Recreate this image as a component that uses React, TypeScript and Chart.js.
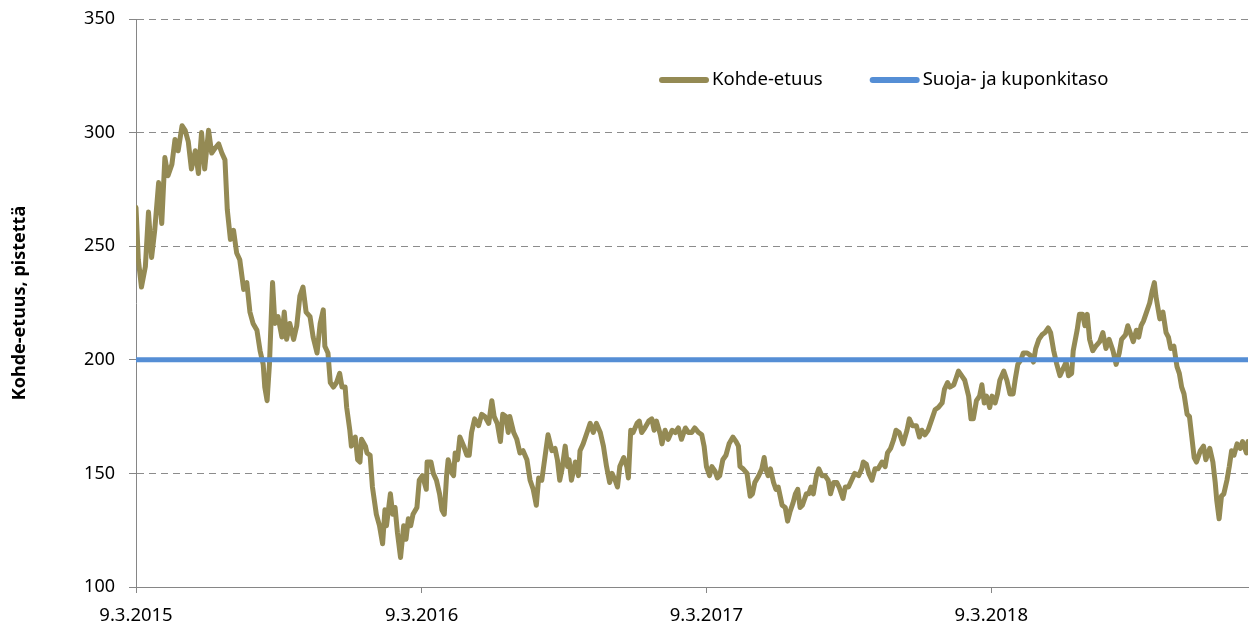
import React, { useEffect, useRef } from "react";
import { Chart, registerables } from "chart.js";

Chart.register(...registerables);

// Days since 9.3.2015
const dayOffsets = [
  0, 3, 7, 12, 16, 20, 24, 29, 33, 37, 41, 46, 50, 54, 59, 63, 67, 71, 76, 80, 84, 88, 93, 97, 101, 106, 110, 114, 117, 121,
  125, 129, 133, 138, 142, 146, 150, 155, 159, 163, 165, 168, 171, 175, 178, 182, 187, 190, 193, 197, 202, 206, 210, 214, 218,
  223, 227, 232, 236, 240, 242, 246, 249,
  253, 257, 261, 264, 268, 270, 274, 276, 281, 284, 287, 289, 294, 296, 300, 303, 308, 312, 316, 319, 321, 326, 329, 332, 335,
  339, 343, 346, 349, 352, 355, 360, 363, 367, 372, 373, 378, 381, 385, 389, 392, 395, 398, 400, 405, 407, 409, 412, 415, 420,
  424, 427, 430, 434, 439, 443, 447, 452, 456, 459, 463, 467, 470, 474, 477, 479,
  484, 488, 492, 496, 501, 505, 509, 513, 516, 520, 524, 528, 533, 537, 540, 543, 546, 550, 553, 555, 558, 563, 567, 569, 573,
  578, 582, 586, 590, 595, 599, 603, 607, 610, 614, 617, 620, 625, 629, 631, 634, 637, 642, 645, 648, 652, 657, 661, 664, 667,
  672, 674, 678, 682, 687, 691, 695, 699, 704, 708, 712, 716, 721, 725, 728, 731, 735,
  738, 742, 745, 748, 752, 756, 760, 765, 769, 772, 774, 778, 783, 787, 790, 793, 798, 802, 805, 807, 810, 813, 817, 820, 823,
  828, 832, 835, 838, 842, 845, 848, 851, 854, 859, 862, 865, 868, 872, 875, 879, 883, 887, 890, 894, 898, 901, 906, 909, 913,
  917, 921, 926, 930, 932, 936, 939, 943, 947, 951, 956, 960, 963, 967, 971, 974, 978,
  983, 988, 991, 995, 1000, 1004, 1007, 1011, 1015, 1020, 1024, 1028, 1033, 1036, 1040, 1043, 1048, 1051, 1054, 1058, 1062,
  1067, 1070, 1073, 1077, 1081, 1084, 1087, 1090, 1094, 1097, 1101, 1104, 1107, 1112, 1116, 1120, 1124, 1127, 1130, 1134, 1137,
  1142, 1146, 1150, 1153, 1157, 1161, 1165, 1169, 1172, 1176, 1180, 1184, 1188, 1192, 1195, 1199, 1201, 1206, 1209, 1213, 1216,
  1219, 1222,
  1226, 1230, 1235, 1239, 1243, 1247, 1252, 1256, 1260, 1263, 1268, 1271, 1274, 1278, 1282, 1285, 1288, 1291, 1294, 1299, 1302,
  1305, 1307, 1312, 1316, 1320, 1323, 1326, 1330, 1334, 1337, 1340, 1343, 1347, 1350, 1353, 1356, 1359, 1364, 1368, 1371, 1376,
  1380, 1383, 1385, 1388, 1391, 1394, 1398, 1401, 1404, 1407, 1411, 1415, 1418, 1423, 1425,
];

const kohdeValues = [
  267, 244, 232, 241, 265, 245, 257, 278, 260, 289, 281, 286, 297, 292, 303, 301, 296, 284, 292, 282, 300, 284, 301, 291, 293,
  295, 291, 288, 266, 253, 257, 247, 244, 231, 234, 221, 216, 213, 204, 198, 188, 182, 198, 234, 216, 219, 210, 221, 209, 216,
  209, 215, 228, 232, 221, 219, 210, 203, 216, 222, 206, 203, 190,
  188, 190, 194, 188, 188, 179, 169, 162, 166, 156, 155, 165, 162, 159, 158, 144, 132, 127, 119, 134, 127, 141, 132, 135, 124,
  113, 127, 121, 130, 127, 132, 135, 147, 149, 143, 155, 155, 150, 147, 141, 134, 132, 149, 156, 150, 149, 159, 156, 166, 162,
  158, 158, 168, 174, 171, 176, 175, 172, 182, 175, 172, 164, 176, 175, 168, 175,
  168, 165, 159, 160, 156, 147, 143, 136, 148, 147, 157, 167, 160, 161, 156, 147, 152, 162, 153, 156, 147, 155, 149, 160, 163,
  168, 172, 168, 172, 168, 162, 153, 146, 150, 147, 144, 153, 157, 153, 148, 169, 168, 172, 173, 168, 170, 173, 174, 169, 173,
  167, 163, 169, 165, 169, 168, 170, 165, 170, 168, 168, 170, 168, 167, 162, 153, 149,
  153, 151, 148, 149, 156, 158, 163, 166, 164, 162, 153, 152, 150, 140, 141, 146, 149, 152, 157, 152, 149, 152, 146, 143, 144,
  136, 135, 129, 133, 137, 141, 143, 135, 136, 141, 141, 144, 141, 149, 152, 149, 149, 147, 141, 146, 146, 144, 139, 144, 144,
  147, 150, 149, 152, 155, 154, 150, 147, 152, 152, 155, 153, 159, 161, 165, 169, 168,
  163, 169, 174, 171, 171, 166, 169, 167, 169, 174, 178, 179, 181, 187, 190, 188, 189, 192, 195, 193, 191,
  184, 174, 174, 182, 184, 189, 181, 184, 179, 184, 181, 185, 191, 195, 191, 185, 185, 192, 198, 200, 203,
  203, 202, 199, 205, 209, 211, 212, 214, 212, 204, 198, 193, 196, 199, 193, 194, 204, 213, 220, 220, 215,
  220, 209,
  204, 206, 208, 212, 205, 209, 204, 198, 203, 209, 211, 215, 212, 208, 213, 210, 215, 217, 220, 225, 230,
  234, 228, 218, 221, 212, 210, 205, 206, 197, 194, 188, 185, 176, 175, 166, 157, 155, 160, 162, 156, 161,
  155, 146, 138, 130, 140, 141, 147, 153, 160, 158, 163, 161, 164, 159, 164,
];

const levelValue = 200;
const firstDay = 0;
const lastDay = 1425;

const xTickDays = [0, 366, 731, 1096];
const xTickLabels = ["9.3.2015", "9.3.2016", "9.3.2017", "9.3.2018"];

const yMin = 100;
const yMax = 350;
const yStep = 50;

const seriesNames = ["Kohde-etuus", "Suoja- ja kuponkitaso"];
const yAxisTitle = "Kohde-etuus, pistettä";

const OLIVE = "#948A54";
const BLUE = "#558ED5";
const AXIS_GRAY = "#868686";
const GRID_GRAY = "#8C8C8C";
const FONT = '"Noto Sans", "Open Sans", sans-serif';

const inlineLegend = {
  id: "inlineLegend",
  afterDraw(chart: any) {
    const { ctx, chartArea } = chart;
    const ds = chart.data.datasets;
    let x = chartArea.left + 523;
    const y = chartArea.top + 61;
    ctx.save();
    ctx.font = `18.5px ${FONT}`;
    ctx.textBaseline = "middle";
    ctx.textAlign = "left";
    for (let i = 0; i < ds.length; i++) {
      ctx.beginPath();
      ctx.strokeStyle = ds[i].borderColor;
      ctx.lineWidth = 6;
      ctx.lineCap = "round";
      ctx.moveTo(x + 3, y);
      ctx.lineTo(x + 47, y);
      ctx.stroke();
      ctx.fillStyle = "#000";
      ctx.fillText(ds[i].label, x + 53, y);
      x += 53 + ctx.measureText(ds[i].label).width + 47;
    }
    ctx.restore();
  },
};

export default function App() {
  const canvasRef = useRef<HTMLCanvasElement | null>(null);

  useEffect(() => {
    if (!canvasRef.current) return;
    const kohdePoints = dayOffsets.map((d, i) => ({ x: d, y: kohdeValues[i] }));
    const levelPoints = [
      { x: firstDay, y: levelValue },
      { x: lastDay, y: levelValue },
    ];
    const chart = new Chart(canvasRef.current, {
      type: "line",
      data: {
        datasets: [
          {
            label: seriesNames[0],
            data: kohdePoints,
            borderColor: OLIVE,
            backgroundColor: OLIVE,
            borderWidth: 5,
            pointRadius: 0,
            tension: 0,
            borderJoinStyle: "round",
            borderCapStyle: "round",
            order: 1,
          },
          {
            label: seriesNames[1],
            data: levelPoints,
            borderColor: BLUE,
            backgroundColor: BLUE,
            borderWidth: 5,
            pointRadius: 0,
            order: 0,
          },
        ],
      },
      options: {
        responsive: false,
        animation: false,
        events: [],
        layout: { padding: { top: 19, right: 2, bottom: 0, left: 0 } },
        plugins: {
          legend: { display: false },
          tooltip: { enabled: false },
        },
        scales: {
          x: {
            type: "linear",
            min: firstDay,
            max: lastDay,
            afterBuildTicks: (scale: any) => {
              scale.ticks = xTickDays.map((v) => ({ value: v }));
            },
            afterFit: (scale: any) => {
              scale.height = 38;
              scale.paddingLeft = 0;
              scale.paddingRight = 0;
            },
            ticks: {
              autoSkip: false,
              maxRotation: 0,
              padding: 12,
              color: "#000",
              font: { family: FONT, size: 18.5 },
              callback: (v: any) => {
                const i = xTickDays.indexOf(Number(v));
                return i >= 0 ? xTickLabels[i] : "";
              },
            },
            grid: {
              display: true,
              drawOnChartArea: false,
              drawTicks: true,
              tickLength: 6,
              color: AXIS_GRAY,
              tickBorderDash: [],
            },
            border: { display: true, color: AXIS_GRAY, width: 1 },
          },
          y: {
            type: "linear",
            min: yMin,
            max: yMax,
            afterFit: (scale: any) => {
              scale.width = 136;
              scale.paddingTop = 0;
              scale.paddingBottom = 0;
            },
            ticks: {
              stepSize: yStep,
              padding: 14,
              color: "#000",
              font: { family: FONT, size: 18 },
            },
            grid: {
              display: true,
              drawOnChartArea: true,
              drawTicks: true,
              tickLength: 7,
              color: GRID_GRAY,
              tickColor: AXIS_GRAY,
              tickBorderDash: [],
              lineWidth: 1,
            },
            border: { display: true, color: AXIS_GRAY, width: 1, dash: [7, 5] },
            title: {
              display: true,
              text: yAxisTitle,
              color: "#000",
              font: { family: FONT, size: 18, weight: "bold" },
              padding: { top: 9, bottom: 0 },
            },
          },
        },
      },
      plugins: [inlineLegend],
    } as any);
    return () => chart.destroy();
  }, []);

  return (
    <div style={{ position: "absolute", left: 0, top: 0, width: 1250, height: 625, background: "#fff" }}>
      <canvas ref={canvasRef} width={1250} height={625} />
    </div>
  );
}
